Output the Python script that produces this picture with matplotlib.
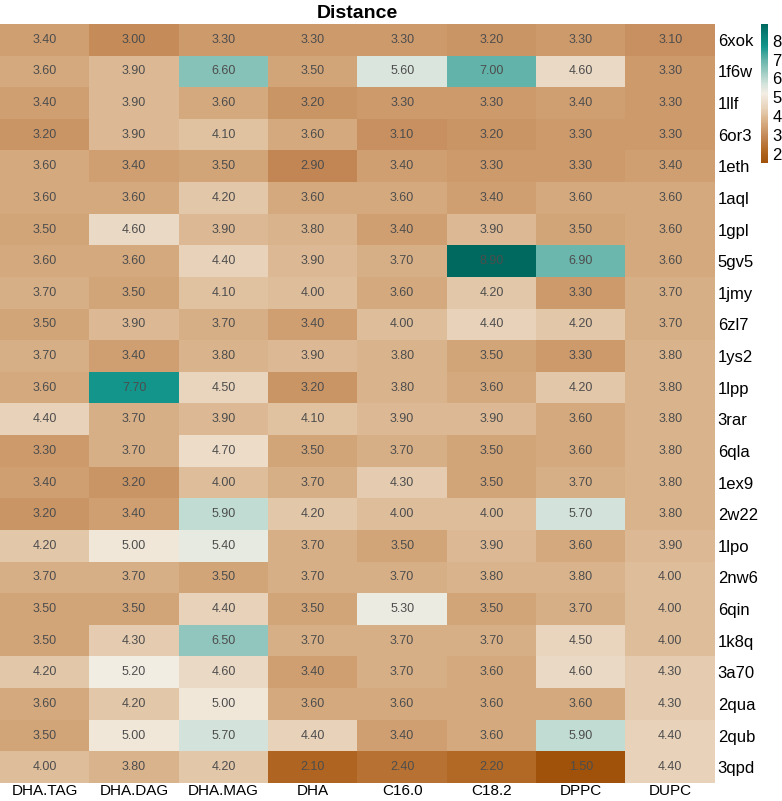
import matplotlib
matplotlib.use("Agg")
import matplotlib.pyplot as plt
import numpy as np
from matplotlib.colors import LinearSegmentedColormap

plt.rcParams['font.family'] = ['Liberation Sans', 'DejaVu Sans']

columns = ["DHA.TAG", "DHA.DAG", "DHA.MAG", "DHA", "C16.0", "C18.2", "DPPC", "DUPC"]
proteins = ["6xok", "1f6w", "1llf", "6or3", "1eth", "1aql", "1gpl", "5gv5",
            "1jmy", "6zl7", "1ys2", "1lpp", "3rar", "6qla", "1ex9", "2w22",
            "1lpo", "2nw6", "6qin", "1k8q", "3a70", "2qua", "2qub", "3qpd"]

dist_6xok = [3.40, 3.00, 3.30, 3.30, 3.30, 3.20, 3.30, 3.10]
dist_1f6w = [3.60, 3.90, 6.60, 3.50, 5.60, 7.00, 4.60, 3.30]
dist_1llf = [3.40, 3.90, 3.60, 3.20, 3.30, 3.30, 3.40, 3.30]
dist_6or3 = [3.20, 3.90, 4.10, 3.60, 3.10, 3.20, 3.30, 3.30]
dist_1eth = [3.60, 3.40, 3.50, 2.90, 3.40, 3.30, 3.30, 3.40]
dist_1aql = [3.60, 3.60, 4.20, 3.60, 3.60, 3.40, 3.60, 3.60]
dist_1gpl = [3.50, 4.60, 3.90, 3.80, 3.40, 3.90, 3.50, 3.60]
dist_5gv5 = [3.60, 3.60, 4.40, 3.90, 3.70, 8.90, 6.90, 3.60]
dist_1jmy = [3.70, 3.50, 4.10, 4.00, 3.60, 4.20, 3.30, 3.70]
dist_6zl7 = [3.50, 3.90, 3.70, 3.40, 4.00, 4.40, 4.20, 3.70]
dist_1ys2 = [3.70, 3.40, 3.80, 3.90, 3.80, 3.50, 3.30, 3.80]
dist_1lpp = [3.60, 7.70, 4.50, 3.20, 3.80, 3.60, 4.20, 3.80]
dist_3rar = [4.40, 3.70, 3.90, 4.10, 3.90, 3.90, 3.60, 3.80]
dist_6qla = [3.30, 3.70, 4.70, 3.50, 3.70, 3.50, 3.60, 3.80]
dist_1ex9 = [3.40, 3.20, 4.00, 3.70, 4.30, 3.50, 3.70, 3.80]
dist_2w22 = [3.20, 3.40, 5.90, 4.20, 4.00, 4.00, 5.70, 3.80]
dist_1lpo = [4.20, 5.00, 5.40, 3.70, 3.50, 3.90, 3.60, 3.90]
dist_2nw6 = [3.70, 3.70, 3.50, 3.70, 3.70, 3.80, 3.80, 4.00]
dist_6qin = [3.50, 3.50, 4.40, 3.50, 5.30, 3.50, 3.70, 4.00]
dist_1k8q = [3.50, 4.30, 6.50, 3.70, 3.70, 3.70, 4.50, 4.00]
dist_3a70 = [4.20, 5.20, 4.60, 3.40, 3.70, 3.60, 4.60, 4.30]
dist_2qua = [3.60, 4.20, 5.00, 3.60, 3.60, 3.60, 3.60, 4.30]
dist_2qub = [3.50, 5.00, 5.70, 4.40, 3.40, 3.60, 5.90, 4.40]
dist_3qpd = [4.00, 3.80, 4.20, 2.10, 2.40, 2.20, 1.50, 4.40]

data = np.array([dist_6xok, dist_1f6w, dist_1llf, dist_6or3, dist_1eth, dist_1aql,
                 dist_1gpl, dist_5gv5, dist_1jmy, dist_6zl7, dist_1ys2, dist_1lpp,
                 dist_3rar, dist_6qla, dist_1ex9, dist_2w22, dist_1lpo, dist_2nw6,
                 dist_6qin, dist_1k8q, dist_3a70, dist_2qua, dist_2qub, dist_3qpd])

vmin, vmax = 1.5, 8.9

# brown -> cream -> teal, muted like the original
anchors = [(1.5, "#a0520a"), (2.2, "#b36a26"), (2.9, "#c38755"), (3.4, "#d0a073"),
           (3.8, "#dab48c"), (4.4, "#e8d2b9"), (5.2, "#f3eee4"), (5.7, "#d4e4dc"),
           (6.6, "#87c3b9"), (7.0, "#64b4aa"), (7.7, "#14968c"), (8.9, "#00695f")]
cmap = LinearSegmentedColormap.from_list(
    "dist", [((v - vmin) / (vmax - vmin), c) for v, c in anchors])

W, H = 782, 801
fig = plt.figure(figsize=(W / 100, H / 100), dpi=100)
left, right, top, bottom = 0, 715, 24, 783
ax = fig.add_axes([left / W, 1 - bottom / H, (right - left) / W, (bottom - top) / H])

im = ax.imshow(data, cmap=cmap, vmin=vmin, vmax=vmax, aspect='auto', interpolation='nearest')

for i in range(data.shape[0]):
    for j in range(data.shape[1]):
        ax.text(j, i, f"{data[i, j]:.2f}", ha='center', va='center',
                fontsize=9, color='#4d4d4d')

ax.set_xticks(range(len(columns)))
ax.set_xticklabels(columns, fontsize=11)
ax.set_yticks(range(len(proteins)))
ax.set_yticklabels(proteins, fontsize=12)
ax.yaxis.tick_right()
ax.tick_params(axis='both', length=0)
ax.tick_params(axis='x', pad=1)
ax.tick_params(axis='y', pad=2)
for s in ax.spines.values():
    s.set_visible(False)

ax.set_title("Distance", fontsize=14, fontweight='bold', pad=4)

cax = fig.add_axes([761 / W, 1 - 163 / H, 7 / W, (163 - 24) / H])
cb = fig.colorbar(im, cax=cax, ticks=[2, 3, 4, 5, 6, 7, 8])
cb.outline.set_visible(False)
cb.ax.tick_params(length=0, labelsize=12, pad=3)

fig.savefig("out.png", dpi=100)
